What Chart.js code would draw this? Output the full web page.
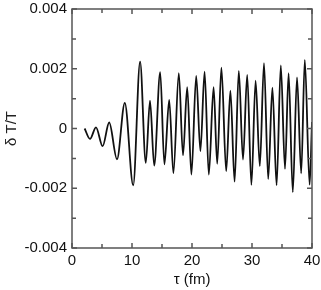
<!DOCTYPE html>
<html>
<head>
<meta charset="utf-8">
<script src="https://cdn.jsdelivr.net/npm/chart.js@4/dist/chart.umd.min.js"></script>
<style>
html,body{margin:0;padding:0;background:#fff;}
#wrap{position:relative;width:321px;height:290px;}
</style>
</head>
<body>
<div id="wrap"><canvas id="c" width="321" height="290"></canvas></div>
<script>
// τ (fm) at local extrema of the curve
const tau = [2.1, 3.0, 4.0, 5.1, 6.2, 7.5, 8.8, 10.2, 11.35, 12.3, 13.0, 13.7, 14.7, 15.4, 16.2, 16.9, 17.8, 18.5, 19.2, 19.9, 20.7, 21.4, 22.1, 22.8, 23.6, 24.2, 24.9, 25.7, 26.4, 27.1, 27.8, 28.5, 29.2, 29.9, 30.6, 31.3, 32.0, 32.7, 33.4, 34.1, 34.8, 35.5, 36.1, 36.8, 37.5, 38.2, 38.8, 39.6, 40.0];
// δT/T values at those points
const dT = [0.0, -0.00035, 0.00004, -0.00059, 0.0002, -0.00103, 0.00086, -0.0019, 0.00224, -0.00115, 0.00093, -0.00124, 0.00189, -0.0012, 0.00096, -0.0015, 0.00185, -0.0009, 0.00138, -0.00154, 0.00176, -0.00076, 0.0019, -0.00154, 0.00138, -0.00118, 0.00204, -0.00143, 0.00127, -0.00178, 0.00193, -0.00104, 0.00179, -0.00189, 0.0016, -0.00126, 0.00219, -0.00169, 0.00137, -0.0019, 0.00211, -0.00135, 0.00185, -0.00213, 0.00171, -0.0015, 0.0023, -0.00188, 0.00022];
const xTicks = [0, 10, 20, 30, 40];
const yTicks = [-0.004, -0.002, 0, 0.002, 0.004];
const xMinor = [5, 15, 25, 35];
const yMinor = [-0.003, -0.001, 0.001, 0.003];

const AXIS = '#555';
const FONT = {family: '"Liberation Sans", Arial, sans-serif', size: 15};

const frame = {
  id: 'frame',
  afterDraw(chart) {
    const ctx = chart.ctx, a = chart.chartArea;
    const xs = chart.scales.x, ys = chart.scales.y;
    ctx.save();
    ctx.strokeStyle = AXIS;
    ctx.lineWidth = 1.5;
    ctx.strokeRect(a.left, a.top, a.right - a.left, a.bottom - a.top);
    ctx.beginPath();
    const tx = (v, len) => {
      const p = xs.getPixelForValue(v);
      ctx.moveTo(p, a.bottom); ctx.lineTo(p, a.bottom - len);
      ctx.moveTo(p, a.top); ctx.lineTo(p, a.top + len);
    };
    const ty = (v, len) => {
      const p = ys.getPixelForValue(v);
      ctx.moveTo(a.left, p); ctx.lineTo(a.left + len, p);
      ctx.moveTo(a.right, p); ctx.lineTo(a.right - len, p);
    };
    xTicks.forEach(v => tx(v, 5));
    xMinor.forEach(v => tx(v, 4));
    yTicks.forEach(v => ty(v, 5));
    yMinor.forEach(v => ty(v, 4));
    ctx.stroke();
    ctx.restore();
  }
};

new Chart(document.getElementById('c'), {
  type: 'line',
  data: {
    datasets: [{
      data: tau.map((t, i) => ({x: t, y: dT[i]})),
      borderColor: '#111',
      borderWidth: 1.8,
      pointRadius: 0,
      fill: false,
      cubicInterpolationMode: 'monotone'
    }]
  },
  options: {
    responsive: false,
    animation: false,
    events: [],
    layout: {padding: {top: 9, right: 9, left: 0, bottom: 0}},
    plugins: {legend: {display: false}, tooltip: {enabled: false}},
    scales: {
      x: {
        type: 'linear', min: 0, max: 40,
        afterFit(s) { s.height = 42; s.paddingLeft = 0; s.paddingRight = 0; },
        afterBuildTicks(s) { s.ticks = xTicks.map(v => ({value: v})); },
        grid: {display: false, drawTicks: false},
        border: {display: false},
        ticks: {color: '#111', font: FONT, padding: 4, maxRotation: 0, callback: v => String(v)},
        title: {display: true, text: 'τ (fm)', color: '#111', font: FONT, padding: {top: 0, bottom: 1}}
      },
      y: {
        type: 'linear', min: -0.004, max: 0.004,
        afterFit(s) { s.width = 72; s.paddingTop = 0; s.paddingBottom = 0; },
        afterBuildTicks(s) { s.ticks = yTicks.map(v => ({value: v})); },
        grid: {display: false, drawTicks: false},
        border: {display: false},
        ticks: {color: '#111', font: FONT, padding: 5,
          callback: v => (Math.abs(v) < 1e-12 ? '0' : v.toFixed(3))},
        title: {display: true, text: 'δ T/T', color: '#222', font: FONT, padding: {top: 3, bottom: 0}}
      }
    }
  },
  plugins: [frame]
});
</script>
</body>
</html>
